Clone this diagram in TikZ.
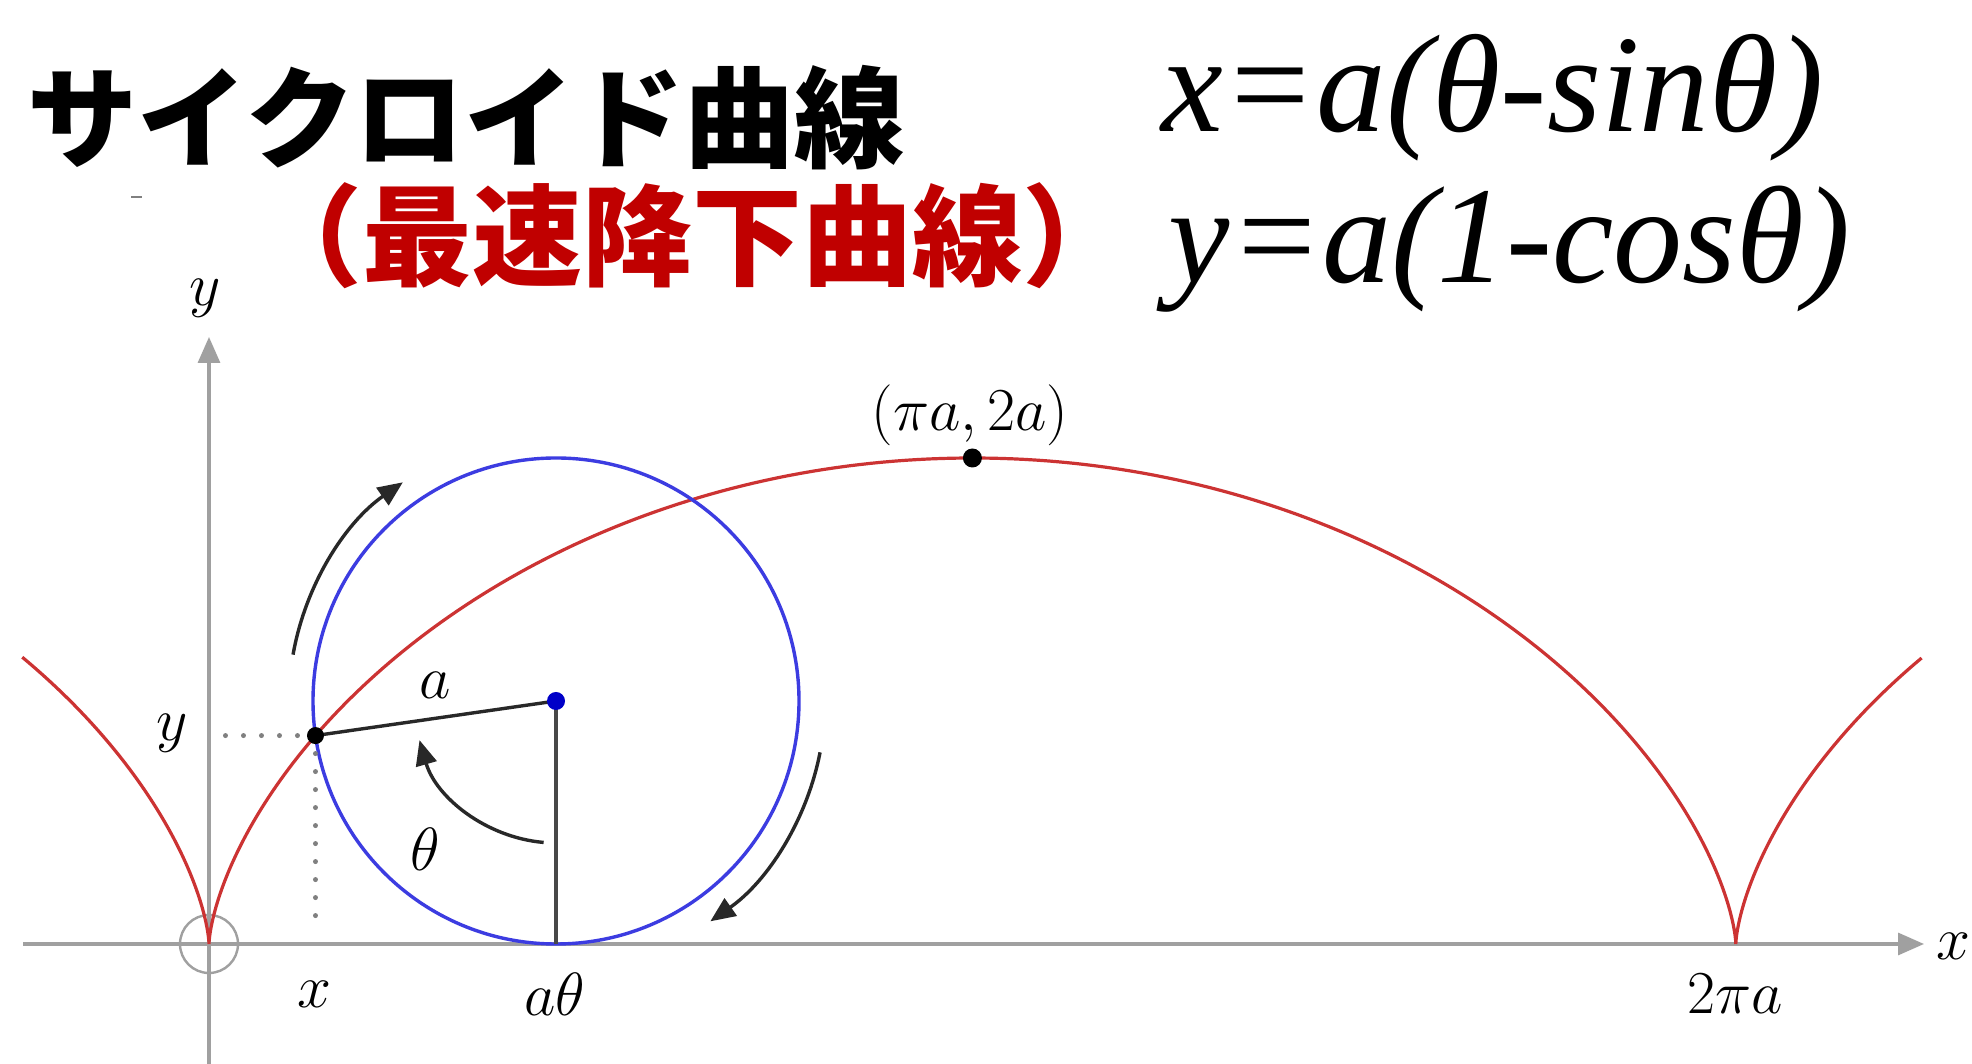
\RequirePackage{fix-cm}
\documentclass[tikz,border=0pt]{standalone}
\usepackage{fontspec}
\newfontfamily\cjk{Noto Sans CJK JP}
\newfontfamily\formfont{Liberation Serif}
\usetikzlibrary{arrows.meta,calc}
\definecolor{curvered}{RGB}{204,51,51}
\definecolor{circblue}{RGB}{60,60,225}
\definecolor{titlered}{RGB}{192,0,0}
\definecolor{axisgray}{RGB}{160,160,160}
\definecolor{darkline}{RGB}{40,40,40}
\definecolor{centerblue}{RGB}{0,0,200}
\begin{document}
\begin{tikzpicture}[x=1pt,y=1pt,
  axisline/.style={draw=axisgray,line width=3.2pt,-{Triangle[length=26pt,width=22pt]}},
  cyc/.style={draw=curvered,line width=3.2pt},
  roll/.style={draw=circblue,line width=3.4pt},
  seg/.style={draw=darkline,line width=3.4pt},
  turnarrow/.style={draw=darkline,line width=3.4pt,-{Triangle[length=25pt,width=21pt]}},
  guide/.style={draw=axisgray!80!black,line width=5pt,line cap=round,dash pattern=on 0pt off 18pt},
  lbl/.style={font=\fontsize{61}{63}\selectfont,inner sep=0pt},
  dotmark/.style={circle,inner sep=0pt,minimum size=17pt,fill=black},
]
\useasboundingbox[fill=white] (0,0) rectangle (1972,1064);
% axes
\coordinate (O) at (209,120);
\coordinate (xs) at (23,120);
\coordinate (xe) at (1924,120);
\coordinate (ys) at (209,0);
\coordinate (ye) at (209,727);
\draw[axisline] (xs) -- (xe);
\draw[axisline] (ys) -- (ye);
\draw[draw=axisgray,line width=2.4pt] (O) circle[radius=29pt];
% cycloid
\draw[cyc] plot[domain=-1.752:8.035,samples=400,variable=\t] ({209+243*(\t-sin(\t r))},{120+243*(1-cos(\t r))});
% rolling circle
\coordinate (C) at (556,363);
\coordinate (B) at (556,120);
\coordinate (P) at ($(C)+(188.18:243pt)$);
\coordinate (T) at (972.4,606);
\draw[roll] (C) circle[radius=243pt];
% guides
\coordinate (Ya) at (214,0);
\coordinate (Xa) at (0,133);
\draw[guide] (P) -- (P -| Ya);
\draw[guide] (P) -- (P |- Xa);
% radius and vertical
\draw[seg] (P) -- (C);
\draw[seg,draw=darkline!85] (C) -- (B);
% rotation arrows
\draw[turnarrow] ($(C)+(170:267pt)$) arc[start angle=170,end angle=125,radius=267pt];
\draw[turnarrow] ($(C)+(-11:269pt)$) arc[start angle=-11,end angle=-55,radius=269pt];
\draw[turnarrow] ($(C)+(265:142pt)$) arc[start angle=265,end angle=196,radius=142pt];
% dots
\node[dotmark] (Pdot) at (P) {};
\node[dotmark,minimum size=19pt] (Tdot) at (T) {};
\node[dotmark,fill=centerblue,minimum size=18pt] (Cdot) at (C) {};
% labels
\node[lbl] (xlab) at (1953,118) {$x$};
\node[lbl] (ylab) at (205,766) {$y$};
\node[lbl] (xpt) at (314,70) {$x$};
\node[lbl] (atheta) at (555,70) {$a\theta$};
\node[lbl] (twopia) at (1735,70) {$2\pi a$};
\node[lbl] (ypt) at (172,331) {$y$};
\node[lbl] (alab) at (435,379) {$a$};
\node[lbl] (thlab) at (425,215) {$\theta$};
\node[lbl] (toplab) at (970,649) {$(\pi a,2a)$};
% tiny mark
\draw[draw=gray,line width=2.5pt] (131,867) -- (142,867);
% titles
\node[font=\cjk\bfseries\fontsize{110}{120}\selectfont,inner sep=0pt] (title) at (466,946) {サイクロイド曲線};
\node[font=\cjk\bfseries\fontsize{110}{120}\selectfont,inner sep=0pt,text=titlered] (subtitle) at (692,828) {（最速降下曲線）};
\node[anchor=base west,font=\formfont\itshape\fontsize{139}{140}\selectfont,inner sep=0pt] (fx) at (1161,932) {x=a(θ-sinθ)};
\node[anchor=base west,font=\formfont\itshape\fontsize{138}{140}\selectfont,inner sep=0pt] (fy) at (1168,781) {y=a(1-cosθ)};
\end{tikzpicture}
\end{document}
